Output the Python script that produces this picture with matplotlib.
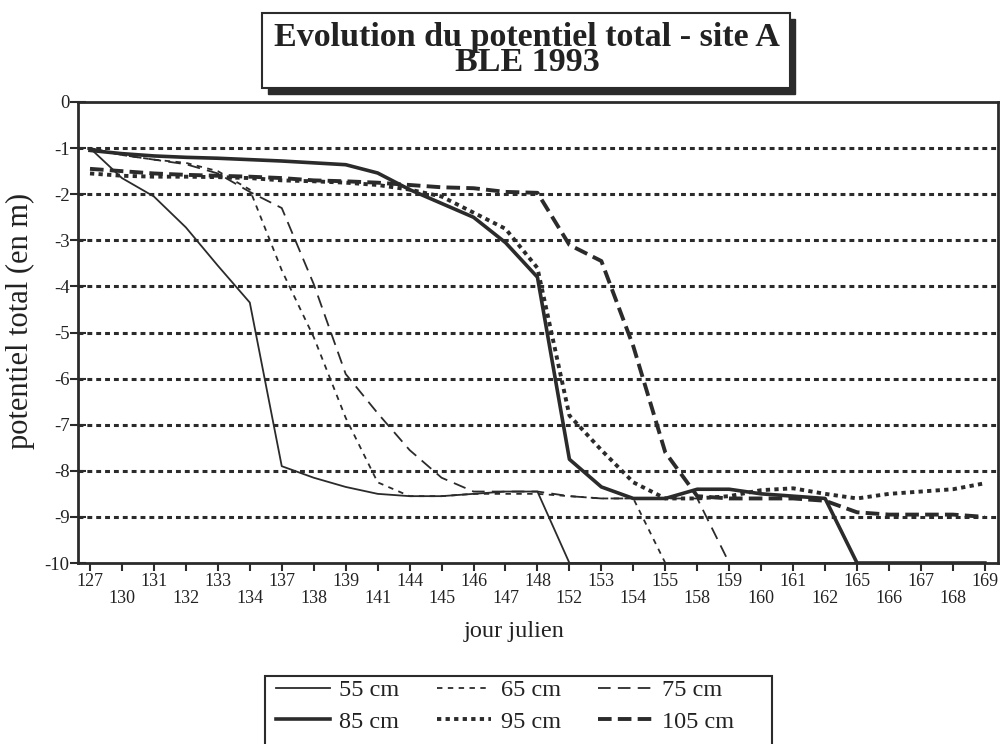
import matplotlib
matplotlib.use("Agg")
import matplotlib.pyplot as plt
from matplotlib.patches import Rectangle
import numpy as np

# ---------------- data ----------------
days = [127, 130, 131, 132, 133, 134, 137, 138, 139, 141, 144, 145, 146, 147, 148,
        152, 153, 154, 155, 158, 159, 160, 161, 162, 165, 166, 167, 168, 169]

s55 = [-1.0, -1.65, -2.05, -2.72, -3.55, -4.35, -7.9, -8.15, -8.35, -8.5, -8.55, -8.55,
       -8.5, -8.45, -8.45, -10, -10, -10, -10, -10, -10, -10, -10, -10, -10, -10, -10, -10, -10]
s65 = [-1.0, -1.15, -1.25, -1.32, -1.5, -1.9, -3.65, -5.1, -6.85, -8.25, -8.55, -8.55,
       -8.5, -8.5, -8.5, -8.55, -8.6, -8.6, -10, -10, -10, -10, -10, -10, -10, -10, -10, -10, -10]
s75 = [-1.0, -1.15, -1.25, -1.35, -1.55, -1.95, -2.3, -3.95, -5.9, -6.75, -7.55, -8.15,
       -8.45, -8.45, -8.45, -8.55, -8.6, -8.6, -8.6, -8.6, -10, -10, -10, -10, -10, -10, -10, -10, -10]
s85 = [-1.05, -1.12, -1.17, -1.2, -1.22, -1.25, -1.28, -1.32, -1.36, -1.54, -1.9, -2.2,
       -2.5, -3.05, -3.8, -7.75, -8.35, -8.6, -8.6, -8.4, -8.4, -8.5, -8.55, -8.6, -10, -10, -10, -10, -10]
s95 = [-1.55, -1.6, -1.62, -1.62, -1.63, -1.65, -1.7, -1.72, -1.75, -1.8, -1.9, -2.05,
       -2.4, -2.75, -3.6, -6.8, -7.55, -8.25, -8.6, -8.6, -8.55, -8.42, -8.38, -8.5, -8.6, -8.5, -8.45, -8.4, -8.27]
s105 = [-1.45, -1.5, -1.55, -1.58, -1.6, -1.62, -1.65, -1.7, -1.72, -1.75, -1.8, -1.85,
        -1.87, -1.95, -1.97, -3.1, -3.45, -5.3, -7.6, -8.55, -8.6, -8.6, -8.6, -8.65, -8.9, -8.95, -8.95, -8.95, -9.0]

series_labels = ["55 cm", "65 cm", "75 cm", "85 cm", "95 cm", "105 cm"]
yticks = [0, -1, -2, -3, -4, -5, -6, -7, -8, -9, -10]

title_text = "Evolution du potentiel total - site A\nBLE 1993"
xlabel_text = "jour julien"
ylabel_text = "potentiel total (en m)"

# ---------------- style ----------------
plt.rcParams['font.family'] = ['Liberation Serif', 'DejaVu Serif']
INK = "#2b2b2b"
TXT = "#222222"

W, H = 1000, 744
fig = plt.figure(figsize=(W / 100, H / 100), dpi=100)
fig.patch.set_facecolor("white")

def fx(px):
    return px / W

def fy(py):
    return 1 - py / H

ax = fig.add_axes([fx(78), fy(563), fx(998) - fx(78), fy(102) - fy(563)])

x = np.arange(len(days))
styles = [
    dict(lw=1.3, ls="-"),
    dict(lw=1.3, ls=(0, (3, 3))),
    dict(lw=1.3, ls=(0, (7, 4))),
    dict(lw=2.6, ls="-"),
    dict(lw=2.8, ls=(0, (1.1, 1.1))),
    dict(lw=2.8, ls=(0, (3.5, 1.6))),
]
data = [s55, s65, s75, s85, s95, s105]
handles = []
for vals, st, lab in zip(data, styles, series_labels):
    h, = ax.plot(x, vals, color=INK, label=lab, solid_joinstyle="round",
                 dash_capstyle="butt", **st)
    handles.append(h)

ax.set_xlim(-0.375, 28.41)
ax.set_ylim(-10, 0)

ax.set_yticks(yticks)
ax.set_yticklabels([str(v) for v in yticks])
ax.set_xticks(x)
ax.set_xticklabels([str(d) if i % 2 == 0 else "\n" + str(d) for i, d in enumerate(days)],
                   linespacing=1.0)

for v in yticks[1:-1]:
    ax.axhline(v, color=INK, lw=2.2, ls=(0, (1.6, 1.3)), zorder=0.5)

for sp in ax.spines.values():
    sp.set_color(INK)
    sp.set_linewidth(2.0)

ax.tick_params(axis="y", direction="inout", length=12, width=1.5, colors=INK,
               labelsize=13.5, pad=0)
ax.tick_params(axis="x", direction="out", length=6, width=1.5, colors=INK,
               labelsize=13, pad=1)
for t in ax.get_xticklabels() + ax.get_yticklabels():
    t.set_color(TXT)

fig.text(fx(514), fy(632), xlabel_text, ha="center", va="center", fontsize=17.5, color=TXT)
fig.text(fx(20), fy(321), ylabel_text, rotation=90, fontsize=22, color=TXT,
         ha="center", va="center")

# title box with shadow
fig.patches.append(Rectangle((fx(268), fy(94)), fx(795) - fx(268), fy(19) - fy(94),
                             transform=fig.transFigure, facecolor=INK, edgecolor=INK,
                             zorder=1))
fig.patches.append(Rectangle((fx(262), fy(88)), fx(790) - fx(262), fy(13) - fy(88),
                             transform=fig.transFigure, facecolor="white", edgecolor=INK,
                             lw=1.5, zorder=2))
fig.text(fx(527), fy(50), title_text, ha="center", va="center", fontsize=24.5,
         fontweight="bold", color=TXT, linespacing=0.74, zorder=3)

# legend box
fig.patches.append(Rectangle((fx(265), fy(752)), fx(772) - fx(265), fy(676) - fy(752),
                             transform=fig.transFigure, facecolor="white", edgecolor=INK,
                             lw=1.5, zorder=1))
order = [0, 3, 1, 4, 2, 5]
leg = fig.legend(handles=[handles[i] for i in order],
                 labels=[series_labels[i] for i in order],
                 loc="center", bbox_to_anchor=(fx(505), fy(706)),
                 ncol=3, frameon=False, fontsize=17.5, handlelength=2.2,
                 columnspacing=1.55, handletextpad=0.4, labelspacing=0.4)
for t in leg.get_texts():
    t.set_color(TXT)

fig.savefig("out.png", dpi=100)
